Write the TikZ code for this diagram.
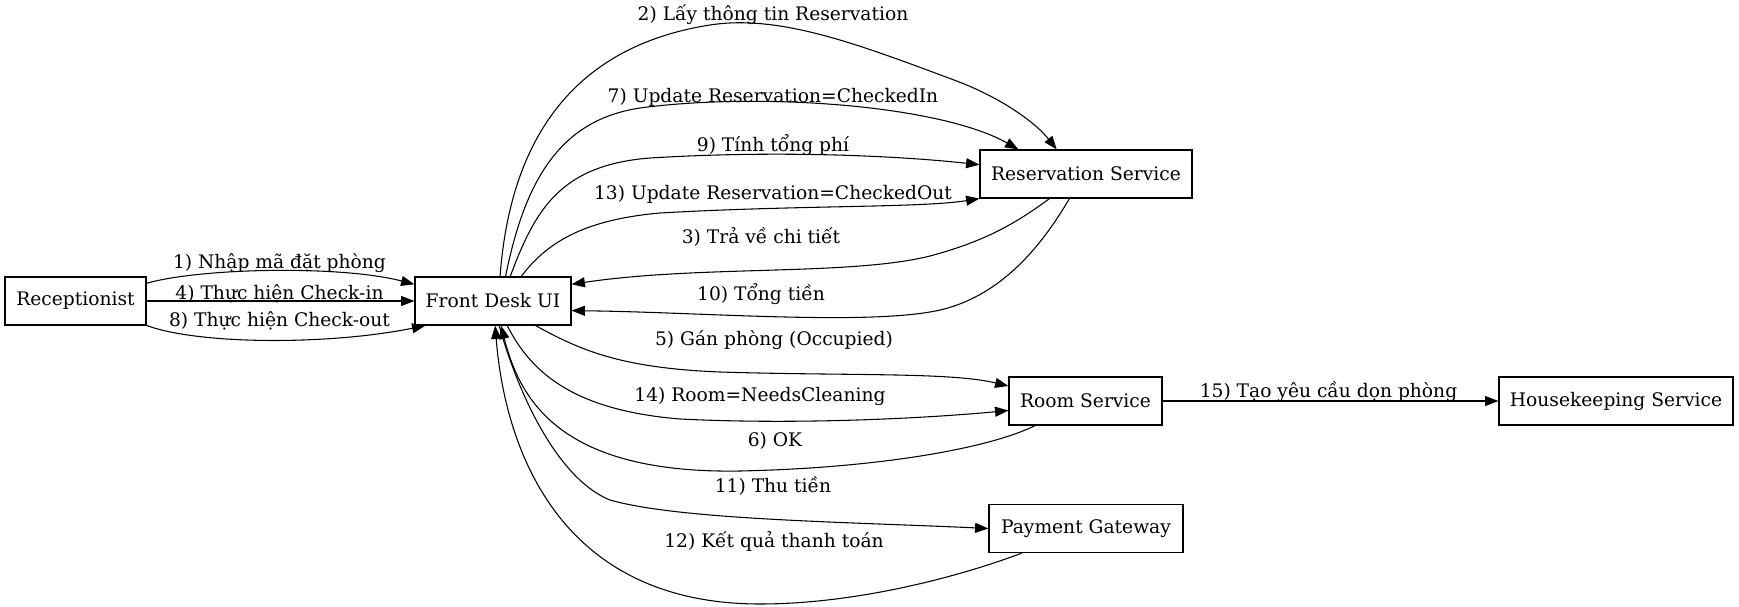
\documentclass[tikz,border=0pt]{standalone}
\usepackage{fontspec}
\setmainfont{DejaVu Serif}
\usepackage{tikz}
\usetikzlibrary{arrows.meta}
\tikzset{
  box/.style  = {draw, rectangle, minimum height=36pt, inner sep=0pt, font=\fontsize{14pt}{16pt}\selectfont, line width=0.9pt},
  flow/.style = {-{Triangle[length=10pt,width=7.5pt]}, line width=0.8pt},
  lbl/.style  = {anchor=base, inner sep=0pt, font=\fontsize{14pt}{16pt}\selectfont},
}

\begin{document}
\begin{tikzpicture}[x=0.75pt,y=-0.75pt]
  \useasboundingbox (0,0) rectangle (1739,607);
  \node[box, minimum width=105.75pt] (rec)  at (75.5,301)  {Receptionist};
  \node[box, minimum width=117pt]    (fd)   at (493,301)   {Front Desk UI};
  \node[box, minimum width=159pt]    (res)  at (1086,174)  {Reservation Service};
  \node[box, minimum width=114.75pt] (room) at (1085.5,401) {Room Service};
  \node[box, minimum width=175.5pt]  (hk)   at (1616,401)  {Housekeeping Service};
  \node[box, minimum width=145.5pt]  (pay)  at (1086,528.5) {Payment Gateway};

  \draw[flow] (rec.14) .. controls (200,268) and (340,265) .. (fd.168);
  \draw[flow] (rec.east) -- (fd.west);
  \draw[flow] (rec.-19) .. controls (200,345) and (330,345) .. (fd.200);
  \draw[flow] (fd.74) .. controls (508,170) and (550,50) .. (710,25) .. controls (780,14) and (860,45) .. (954,80) .. controls (1000,97) and (1035,122) .. (res.140);
  \draw[flow] (fd.63) .. controls (525,180) and (560,120) .. (640,108) .. controls (760,92) and (940,105) .. (res.160);
  \draw[flow] (fd.55) .. controls (535,210) and (560,165) .. (650,158) .. controls (780,150) and (900,156) .. (res.175);
  \draw[flow] (fd.41) .. controls (545,245) and (580,220) .. (660,213) .. controls (800,205) and (920,208) .. (res.193);
  \draw[flow] (res.214) .. controls (1020,220) and (990,240) .. (930,256) .. controls (850,276) and (700,265) .. (fd.12);
  \draw[flow] (res.236) .. controls (1045,240) and (1005,295) .. (940,310) .. controls (870,326) and (700,312) .. (fd.-7);
  \draw[flow] (fd.-30) .. controls (580,350) and (620,368) .. (720,372) .. controls (850,376) and (950,372) .. (room.169);
  \draw[flow] (fd.-60) .. controls (530,370) and (570,410) .. (680,419) .. controls (800,425) and (930,418) .. (room.187);
  \draw[flow] (room.206) .. controls (990,448) and (880,468) .. (740,471) .. controls (560,474) and (520,400) .. (fd.-72);
  \draw[flow] (fd.-76) .. controls (520,400) and (560,480) .. (610,500) .. controls (680,520) and (850,522) .. (pay.west);
  \draw[flow] (pay.201) .. controls (950,580) and (850,604) .. (760,604) .. controls (560,604) and (505,450) .. (fd.-85);
  \draw[flow] (room.east) -- (hk.west);

  \node[lbl] (l1)  at (279.5,268)   {1) Nhập mã đặt phòng};
  \node[lbl] (l4)  at (279.5,299)   {4) Thực hiện Check-in};
  \node[lbl] (l8)  at (279.5,326.5) {8) Thực hiện Check-out};
  \node[lbl] (l2)  at (773,20.5)    {2) Lấy thông tin Reservation};
  \node[lbl] (l7)  at (773,102.5)   {7) Update Reservation=CheckedIn};
  \node[lbl] (l9)  at (773,151)     {9) Tính tổng phí};
  \node[lbl] (l13) at (773,199)     {13) Update Reservation=CheckedOut};
  \node[lbl] (l3)  at (761,243)     {3) Trả về chi tiết};
  \node[lbl] (l10) at (761,300)     {10) Tổng tiền};
  \node[lbl] (l5)  at (774,345.5)   {5) Gán phòng (Occupied)};
  \node[lbl] (l14) at (760,401)     {14) Room=NeedsCleaning};
  \node[lbl] (l6)  at (775,446)     {6) OK};
  \node[lbl] (l11) at (773,492)     {11) Thu tiền};
  \node[lbl] (l12) at (774,547)     {12) Kết quả thanh toán};
  \node[lbl] (l15) at (1328.5,397.5) {15) Tạo yêu cầu dọn phòng};
\end{tikzpicture}
\end{document}
